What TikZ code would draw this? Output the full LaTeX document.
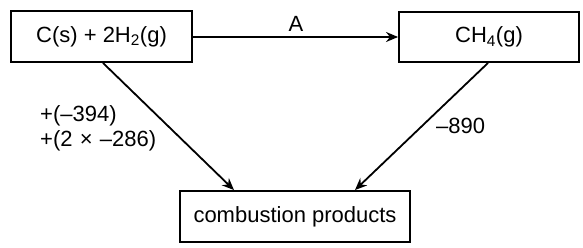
\documentclass[tikz,border=0pt]{standalone}
\usepackage{fontspec}
\setmainfont{Liberation Sans}
\usetikzlibrary{arrows.meta}
\tikzset{
  box/.style={draw, line width=1.9pt, inner sep=0pt, font=\fontsize{22}{26}\selectfont},
  arr/.style={line width=1.8pt, -{Stealth[length=12pt,width=10pt]}},
  lbl/.style={inner sep=0pt, font=\fontsize{22}{26}\selectfont}
}
\begin{document}
\begin{tikzpicture}[x=1pt,y=1pt]
\useasboundingbox (0,0) rectangle (583,247);
\node[box, minimum width=181pt, minimum height=51pt] (b1) at (101.5,210.5) {C(s) + 2H\textsubscript{2}(g)};
\node[box, minimum width=180pt, minimum height=50pt] (b2) at (489,210) {CH\textsubscript{4}(g)};
\node[box, minimum width=230pt, minimum height=51pt] (b3) at (295,30.5) {combustion products};
\draw[arr] (b1.east |- 0,210) -- (b2.west |- 0,210);
\node[lbl, anchor=base] (la) at (296,215) {A};
\draw[arr] ([xshift=1.5pt]b1.south) -- ([xshift=-61pt]b3.north);
\draw[arr] ([xshift=-1pt]b2.south) -- ([xshift=60pt]b3.north);
\node[lbl, anchor=base west] (l1) at (40,126) {+(–394)};
\node[lbl, anchor=base west] (l2) at (40,101) {+(2\hspace{0.33em}×\hspace{0.33em}–286)};
\node[lbl, anchor=base west] (l3) at (436,114) {–890};
\end{tikzpicture}
\end{document}
